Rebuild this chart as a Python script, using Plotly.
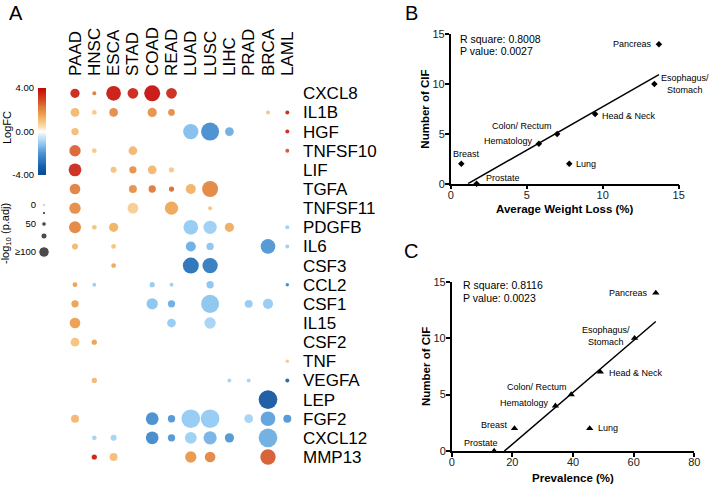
import numpy as np
import plotly.graph_objects as go

# ---------------- data ----------------
cancers = ["PAAD", "HNSC", "ESCA", "STAD", "COAD", "READ", "LUAD", "LUSC", "LIHC", "PRAD", "BRCA", "LAML"]
genes = ["CXCL8", "IL1B", "HGF", "TNFSF10", "LIF", "TGFA", "TNFSF11", "PDGFB", "IL6", "CSF3",
         "CCL2", "CSF1", "IL15", "CSF2", "TNF", "VEGFA", "LEP", "FGF2", "CXCL12", "MMP13"]

bubble_gene = (["CXCL8"] * 6 + ["IL1B"] * 7 + ["HGF"] * 5 + ["TNFSF10"] * 4 + ["LIF"] * 5 +
               ["TGFA"] * 6 + ["TNFSF11"] * 4 + ["PDGFB"] * 7 + ["IL6"] * 6 + ["CSF3"] * 3 +
               ["CCL2"] * 6 + ["CSF1"] * 6 + ["IL15"] * 3 + ["CSF2"] * 2 + ["TNF"] * 1 +
               ["VEGFA"] * 4 + ["LEP"] * 1 + ["FGF2"] * 8 + ["CXCL12"] * 8 + ["MMP13"] * 5)
bubble_cancer = [
    "PAAD", "HNSC", "ESCA", "STAD", "COAD", "READ",
    "PAAD", "HNSC", "ESCA", "COAD", "READ", "BRCA", "LAML",
    "PAAD", "LUAD", "LUSC", "LIHC", "LAML",
    "PAAD", "HNSC", "STAD", "LAML",
    "PAAD", "ESCA", "STAD", "COAD", "READ",
    "PAAD", "STAD", "COAD", "READ", "LUAD", "LUSC",
    "PAAD", "STAD", "READ", "LUSC",
    "PAAD", "HNSC", "ESCA", "LUAD", "LUSC", "LIHC", "LAML",
    "PAAD", "ESCA", "LUAD", "LUSC", "BRCA", "LAML",
    "ESCA", "LUAD", "LUSC",
    "PAAD", "HNSC", "COAD", "READ", "LUSC", "LAML",
    "PAAD", "COAD", "READ", "LUSC", "PRAD", "BRCA",
    "PAAD", "READ", "LUSC",
    "PAAD", "HNSC",
    "LAML",
    "HNSC", "LIHC", "PRAD", "LAML",
    "BRCA",
    "PAAD", "COAD", "READ", "LUAD", "LUSC", "PRAD", "BRCA", "LAML",
    "HNSC", "ESCA", "COAD", "READ", "LUAD", "LUSC", "LIHC", "BRCA",
    "HNSC", "ESCA", "LUAD", "LUSC", "BRCA",
]
bubble_logfc = [
    3.6, 2.3, 3.8, 3.6, 3.9, 3.5,
    1.2, 0.9, 2.0, 1.9, 2.0, 1.0, 3.6,
    1.1, -1.3, -2.2, -1.6, 3.6,
    2.6, 0.9, 1.2, 2.8,
    3.5, 1.0, 1.9, 1.2, 0.9,
    2.2, 1.9, 2.3, 2.5, 1.3, 2.1,
    2.0, 0.8, 1.5, 1.0,
    2.1, 1.0, 1.3, -1.1, -1.0, 1.4, -1.0,
    1.2, 1.0, -1.6, -1.2, -2.0, -1.0,
    1.5, -2.9, -2.7,
    1.6, -1.0, -1.1, -1.0, -1.2, -2.3,
    1.6, -1.2, -1.6, -1.2, -1.1, -1.1,
    1.7, -1.1, -0.9,
    1.0, 1.6,
    0.9,
    1.2, -0.9, -0.9, -3.2,
    -3.6,
    1.2, -2.2, -2.0, -1.1, -1.1, -0.9, -1.8, -2.0,
    -0.9, -0.9, -2.3, -2.0, -1.0, -1.5, -2.0, -1.6,
    3.7, 1.1, 1.8, 2.1, 2.7,
]
bubble_sig = [  # -log10(p.adj)
    39, 6, 73, 48, 81, 48,
    36, 11, 36, 39, 23, 6, 6,
    27, 77, 94, 36, 6,
    52, 11, 36, 6,
    61, 19, 27, 36, 14,
    48, 31, 27, 14, 44, 81,
    52, 48, 64, 6,
    56, 11, 39, 73, 64, 39, 6,
    19, 11, 44, 27, 73, 6,
    11, 81, 77,
    11, 6, 14, 6, 27, 3,
    27, 52, 27, 94, 31, 44,
    48, 36, 52,
    36, 14,
    3,
    14, 6, 6, 6,
    98,
    31, 61, 27, 98, 98, 36, 73, 31,
    11, 19, 61, 27, 56, 64, 39, 98,
    14, 31, 52, 48, 77,
]
sig_legend_values = [0, 25, 50, 75, 100]
sig_legend_labels = ["0", "", "50", "", "≥100"]
logfc_ticks = [-4, 0, 4]

tumor_types = ["Pancreas", "Esophagus/<br>Stomach", "Head & Neck", "Colon/ Rectum",
               "Hematology", "Lung", "Breast", "Prostate"]
weight_loss = [13.7, 13.4, 9.5, 7.0, 5.8, 7.8, 0.7, 1.7]
prevalence = [67.3, 60.3, 49.0, 39.4, 34.2, 45.5, 20.7, 14.0]
cif_count = [14, 10, 7, 5, 4, 2, 2, 0]
stats_b = ["R square: 0.8008", "P value: 0.0027"]
stats_c = ["R square: 0.8116", "P value: 0.0023"]

# ---------------- style ----------------
W, H = 709, 486
FONT = "Liberation Sans, Arial, sans-serif"


def fx(px):
    return px / W


def fy(px):
    return 1 - px / H


def lin(px, pa, va, pb, vb):
    return va + (px - pa) * (vb - va) / (pb - pa)


colorscale = [
    [0.00, "#08468c"], [0.10, "#1562ad"], [0.25, "#4a92d4"], [0.36, "#8ec8f2"],
    [0.45, "#d2e9fa"], [0.50, "#ffffff"], [0.56, "#fbdcae"], [0.625, "#f5c07a"],
    [0.70, "#eca04c"], [0.78, "#e07a38"], [0.86, "#d44a22"], [1.00, "#c40606"],
]


def diam(s):
    return 3 + 0.16 * np.minimum(np.asarray(s, dtype=float), 100)


legend_glyph_d = [2.2, 3.2, 4.6, 6.2, 10.5]
legend_glyph_y = [205, 213, 224, 236, 252]

fig = go.Figure()

# ---- Panel A bubble matrix ----
fig.add_trace(go.Scatter(
    x=bubble_cancer, y=bubble_gene, mode="markers", cliponaxis=False,
    marker=dict(size=diam(bubble_sig), color=bubble_logfc, colorscale=colorscale,
                cmin=-4, cmax=4, opacity=0.92, line=dict(width=0)),
    xaxis="x", yaxis="y", showlegend=False, hoverinfo="skip",
))

# colour bar as a heatmap strip
cb_vals = np.linspace(-4, 4, 161)
fig.add_trace(go.Heatmap(
    z=cb_vals.reshape(-1, 1), y=cb_vals, x=[0], colorscale=colorscale, zmin=-4, zmax=4,
    showscale=False, xaxis="x3", yaxis="y3", hoverinfo="skip",
))

# size legend
fig.add_trace(go.Scatter(
    x=[44] * len(sig_legend_values), y=legend_glyph_y, mode="markers", cliponaxis=False,
    marker=dict(size=legend_glyph_d, color="black"),
    xaxis="x4", yaxis="y4", showlegend=False, hoverinfo="skip",
))
leg_tick_y = [yv for yv, t in zip(legend_glyph_y, sig_legend_labels) if t]
leg_tick_t = [t for t in sig_legend_labels if t]


# ---- Panels B and C ----
def add_regression(xvals, xaxis, yaxis, symbol, msize):
    xv = np.asarray(xvals, dtype=float)
    yv = np.asarray(cif_count, dtype=float)
    m, b = np.polyfit(xv, yv, 1)
    x0 = -b / m
    x1 = xv.max()
    fig.add_trace(go.Scatter(
        x=[x0, x1], y=[m * x0 + b, m * x1 + b], mode="lines",
        line=dict(color="black", width=1.5), xaxis=xaxis, yaxis=yaxis,
        showlegend=False, hoverinfo="skip",
    ))
    fig.add_trace(go.Scatter(
        x=xv, y=yv, mode="markers", marker=dict(symbol=symbol, size=msize, color="black"),
        xaxis=xaxis, yaxis=yaxis, showlegend=False, cliponaxis=False, hoverinfo="skip",
    ))


add_regression(weight_loss, "x5", "y5", "diamond", 5)
add_regression(prevalence, "x6", "y6", "triangle-up", 6.5)

# ---------------- layout ----------------
mx0, mx1 = 60, 302
my0, my1 = 77, 470
xr = [lin(mx0, 75, 0, 287.3, 11), lin(mx1, 75, 0, 287.3, 11)]
yr = [lin(my1, 93.3, 0, 457, 19), lin(my0, 93.3, 0, 457, 19)]

plain = dict(showgrid=False, zeroline=False, showline=False, ticks="")
axis_font = dict(family=FONT, size=11, color="#222")
title_font = dict(family=FONT, size=11.5, color="black")

scatter_axis = dict(showgrid=False, zeroline=False, showline=True, linecolor="black", linewidth=1.5,
                    ticks="outside", ticklen=4, tickwidth=1.5, tickcolor="black",
                    tickfont=axis_font)

layout = dict(
    width=W, height=H, margin=dict(l=0, r=0, t=0, b=0, autoexpand=False),
    paper_bgcolor="white", plot_bgcolor="rgba(0,0,0,0)", font=dict(family=FONT),
    xaxis=dict(plain, domain=[fx(mx0), fx(mx1)], type="category", categoryorder="array",
               categoryarray=cancers, range=xr, side="top", tickangle=-90,
               tickmode="array", tickvals=cancers, ticktext=cancers,
               tickfont=dict(family=FONT, size=17, color="black"), anchor="y"),
    yaxis=dict(plain, domain=[fy(my1), fy(my0)], type="category", categoryorder="array",
               categoryarray=genes, range=yr, side="right",
               tickmode="array", tickvals=genes, ticktext=genes,
               tickfont=dict(family=FONT, size=17, color="black"), anchor="x"),
    xaxis3=dict(plain, domain=[fx(38), fx(46)], range=[-0.5, 0.5], showticklabels=False, anchor="y3"),
    yaxis3=dict(plain, domain=[fy(175), fy(88)], range=[-4, 4], tickvals=logfc_ticks,
                ticktext=[f"{v:.2f}" for v in logfc_ticks], ticklabelstandoff=3,
                tickfont=dict(family=FONT, size=9.5, color="black"), anchor="x3"),
    xaxis4=dict(plain, domain=[fx(37), fx(56)], range=[37, 56], showticklabels=False, anchor="y4"),
    yaxis4=dict(plain, domain=[fy(262), fy(196)], range=[262, 196], tickvals=leg_tick_y,
                ticktext=leg_tick_t, tickfont=dict(family=FONT, size=9.5, color="black"),
                anchor="x4"),
    xaxis5=dict(scatter_axis, domain=[fx(450.7), fx(678.7)], range=[0, 15], tickvals=[0, 5, 10, 15],
                anchor="y5", ticklabelstandoff=-4,
                title=dict(text="<b>Average Weight Loss (%)</b>", font=title_font, standoff=5)),
    yaxis5=dict(scatter_axis, domain=[fy(183.7), fy(34.3)], range=[0, 15], tickvals=[0, 5, 10, 15],
                anchor="x5", ticklabelstandoff=-2,
                title=dict(text="<b>Number of CIF</b>", font=title_font, standoff=0)),
    xaxis6=dict(scatter_axis, domain=[fx(451.7), fx(694.3)], range=[0, 80], tickvals=[0, 20, 40, 60, 80],
                anchor="y6", ticklabelstandoff=-4,
                title=dict(text="<b>Prevalence (%)</b>", font=title_font, standoff=7)),
    yaxis6=dict(scatter_axis, domain=[fy(451), fy(281.7)], range=[0, 15], tickvals=[0, 5, 10, 15],
                anchor="x6", ticklabelstandoff=-2,
                title=dict(text="<b>Number of CIF</b>", font=title_font, standoff=0)),
)
fig.update_layout(**layout)

ann = []
# panel letters
for letter, px, py in [("A", 16, 13), ("B", 411, 13), ("C", 411, 251)]:
    ann.append(dict(text=letter, x=fx(px), y=fy(py), xref="paper", yref="paper",
                    xanchor="center", yanchor="middle",
                    showarrow=False, font=dict(family=FONT, size=20, color="black")))
# colour bar / size legend titles
ann.append(dict(text="LogFC", x=fx(7), y=fy(128), xref="paper", yref="paper", textangle=-90,
                xanchor="center", yanchor="middle",
                showarrow=False, font=dict(family=FONT, size=11, color="black")))
ann.append(dict(text="-log<sub>10</sub> (p.adj)", x=fx(6), y=fy(234), xref="paper", yref="paper",
                xanchor="center", yanchor="middle",
                textangle=-90, showarrow=False, font=dict(family=FONT, size=11, color="black")))

# stats text
for lines, px, py in [(stats_b, 458, 39), (stats_c, 461, 285)]:
    for i, t in enumerate(lines):
        ann.append(dict(text=t, x=fx(px), y=fy(py + 12.5 * i), xref="paper", yref="paper",
                        xanchor="left", yanchor="middle", showarrow=False,
                        font=dict(family=FONT, size=10.5, color="black")))

# point labels (offsets in px relative to each point)
label_offsets_b = [("right", -5, 0), ("left", 5, 0), ("left", 5, -2), ("right", -3, 8),
                   ("right", -4, 3), ("left", 5, 0), ("center", 5, 10), ("left", 7, 6)]
label_offsets_c = [("right", -6, 0), ("center", -29, 2), ("left", 7, -1), ("right", -2, 8),
                   ("right", -4, 3), ("left", 6, 0), ("right", -4, 3), ("center", -13, 8)]
for xs, offs, xa, ya in [(weight_loss, label_offsets_b, "x5", "y5"),
                         (prevalence, label_offsets_c, "x6", "y6")]:
    for name, xv, yv, (anc, dx, dy) in zip(tumor_types, xs, cif_count, offs):
        ann.append(dict(text=name, x=xv, y=yv, xref=xa, yref=ya, xanchor=anc, yanchor="middle",
                        xshift=dx, yshift=dy, showarrow=False, align="center",
                        font=dict(family=FONT, size=9, color="black")))

fig.update_layout(annotations=ann)
fig.write_html("out.html", config={"displayModeBar": False},
               post_script="document.body.style.margin='0';document.body.style.overflow='hidden';")
